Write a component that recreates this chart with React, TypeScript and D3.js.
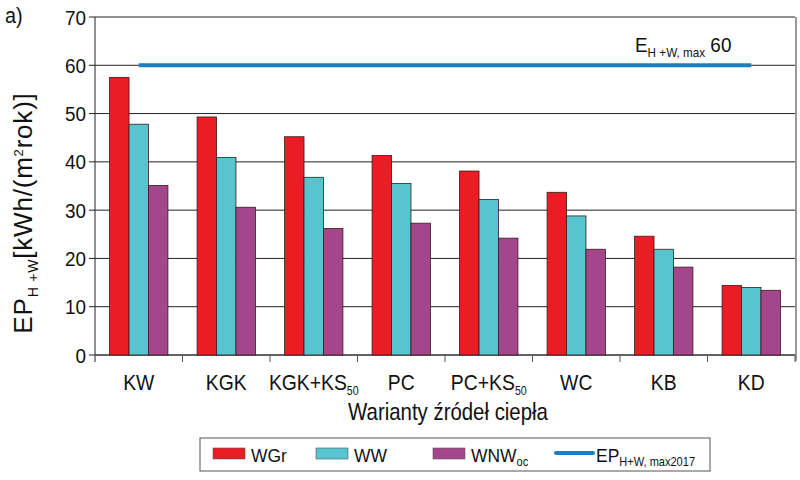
import React from 'react';
import * as d3 from 'd3';

const categories = ['KW', 'KGK', 'KGK+KS', 'PC', 'PC+KS', 'WC', 'KB', 'KD'];
const categorySubs = ['', '', '50', '', '50', '', '', ''];
const wgr = [57.5, 49.3, 45.2, 41.3, 38.1, 33.7, 24.6, 14.4];
const ww = [47.8, 40.9, 36.8, 35.5, 32.2, 28.8, 21.9, 14.0];
const wnw = [35.1, 30.6, 26.2, 27.3, 24.2, 21.9, 18.2, 13.4];
const limitValue = 60;
const yTicks = [0, 10, 20, 30, 40, 50, 60, 70];

const seriesNames = ['WGr', 'WW', 'WNW'];
const seriesValues = [wgr, ww, wnw];
const seriesColors = ['#ec1c24', '#56c5cf', '#a3468c'];
const lineColor = '#1b7fc4';

const font = "'Liberation Sans', Arial, sans-serif";

// narrow text: the original uses a condensed face, so squeeze horizontally
const T = ({ x, y, sx = 0.9, size, anchor = 'start', children }) => (
  <text
    transform={`translate(${x},${y}) scale(${sx},1)`}
    textAnchor={anchor}
    fontSize={size}
    fill="#111"
  >
    {children}
  </text>
);

const App = () => {
  const left = 95, right = 795, top = 17, bottom = 355;

  const x = d3.scaleBand().domain(categories).range([left, right]);
  const xInner = d3.scaleBand().domain(seriesNames).range([0, x.bandwidth()]).paddingOuter(0.75);
  const y = d3.scaleLinear().domain([0, 70]).range([bottom, top]);

  const bw = x.bandwidth();
  const x0 = x(categories[0]) + bw / 2;
  const x1 = x(categories[categories.length - 1]) + bw / 2;

  return (
    <svg width={800} height={480} style={{ position: 'fixed', left: 0, top: 0, background: '#fff' }} fontFamily={font}>
      <T x={5} y={23} size={22}>a)</T>

      {/* gridlines + y ticks */}
      {yTicks.map(t => (
        <g key={t}>
          <line x1={left} x2={right} y1={y(t)} y2={y(t)} stroke="#222" strokeWidth={1} />
          <line x1={left - 6} x2={left} y1={y(t)} y2={y(t)} stroke="#222" strokeWidth={1} />
          <T x={86} y={y(t) + 7.5} size={21} anchor="end">{t}</T>
        </g>
      ))}
      <line x1={right + 1} x2={right + 1} y1={top} y2={bottom + 6} stroke="#999" strokeWidth={2} />
      <line x1={left} x2={left} y1={top} y2={bottom + 7} stroke="#222" strokeWidth={1} />
      <line x1={left} x2={right} y1={bottom} y2={bottom} stroke="#555" strokeWidth={1.5} />
      {categories.map(c => (
        <line key={c} x1={x(c) + bw} x2={x(c) + bw} y1={bottom} y2={bottom + 7} stroke="#555" strokeWidth={1} />
      ))}

      {/* bars */}
      {categories.map((c, i) => (
        <g key={c}>
          {seriesNames.map((s, j) => (
            <rect
              key={s}
              x={x(c) + xInner(s)}
              y={y(seriesValues[j][i])}
              width={xInner.bandwidth()}
              height={bottom - y(seriesValues[j][i])}
              fill={seriesColors[j]}
              stroke="#3a1a1a"
              strokeWidth={0.8}
            />
          ))}
        </g>
      ))}

      {/* limit line */}
      <line x1={x0} x2={x1} y1={y(limitValue)} y2={y(limitValue)} stroke={lineColor} strokeWidth={4} />
      <T x={635} y={y(limitValue) - 13} size={21}>
        E<tspan fontSize={13} dy={5}>H +W, max</tspan><tspan dy={-5}> {limitValue}</tspan>
      </T>

      {/* x labels */}
      {categories.map((c, i) => (
        <T key={c} x={x(c) + bw / 2} y={390} size={22} sx={0.88} anchor="middle">
          {c}
          {categorySubs[i] && <tspan fontSize={12} dy={5}>{categorySubs[i]}</tspan>}
        </T>
      ))}
      <T x={(left + right) / 2 + 3} y={420} size={24} sx={0.85} anchor="middle">Warianty źródeł ciepła</T>

      {/* y title */}
      <text transform="translate(32,213) rotate(-90)" textAnchor="middle" fontSize={26} fill="#111" letterSpacing={0.8}>
        EP<tspan fontSize={14} dy={6}>H +W</tspan><tspan dy={-6}>[kWh/(m</tspan><tspan fontSize={13} dy={-9}>2</tspan><tspan dy={9}>rok)]</tspan>
      </text>

      {/* legend */}
      <rect x={200} y={438} width={510} height={33} fill="#fff" stroke="#555" strokeWidth={1} />
      {seriesNames.map((s, j) => {
        const lx = [213, 316, 433][j];
        return (
          <g key={s}>
            <rect x={lx} y={448} width={32} height={11} fill={seriesColors[j]} stroke="#555" strokeWidth={0.6} />
            <T x={lx + 38} y={462} size={19} sx={0.92}>
              {s}
              {s === 'WNW' && <tspan fontSize={12} dy={4}>oc</tspan>}
            </T>
          </g>
        );
      })}
      <line x1={556} x2={593} y1={453} y2={453} stroke={lineColor} strokeWidth={4} strokeLinecap="round" />
      <T x={596} y={462} size={19} sx={0.92}>
        EP<tspan fontSize={12} dy={4}>H+W, max2017</tspan>
      </T>
    </svg>
  );
};

export default App;
